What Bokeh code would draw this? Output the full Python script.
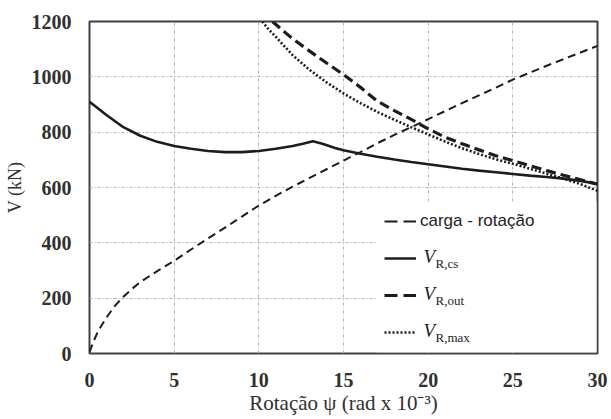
from bokeh.plotting import figure
from bokeh.models import FixedTicker, Legend, LegendItem, Range1d, BoxAnnotation
from bokeh.core.properties import value
from bokeh.embed import file_html
from bokeh.resources import INLINE

# ---- data ----
x_ticks = [0, 5, 10, 15, 20, 25, 30]
y_ticks = [0, 200, 400, 600, 800, 1000, 1200]

psi_carga = [0, 0.25, 0.5, 1, 1.5, 2, 2.5, 3, 4, 5, 6, 7, 8, 9, 10, 11, 12, 13, 14, 15,
             16, 17, 18, 19, 20, 21, 22, 23, 24, 25, 26, 27, 28, 29, 30]
v_carga = [5, 45, 80, 130, 172, 205, 233, 258, 298, 335, 376, 416, 455, 495, 535, 570, 603, 635, 666, 697,
           728, 760, 790, 818, 847, 876, 905, 933, 961, 990, 1015, 1040, 1064, 1088, 1112]

psi_cs = [0, 1, 2, 3, 4, 5, 6, 7, 8, 9, 10, 11, 12, 12.6, 13.2, 13.8, 14.5, 15, 16, 17, 18,
          19, 20, 21, 22, 23, 24, 25, 26, 27, 28, 29, 30]
v_cs = [910, 862, 818, 787, 765, 750, 740, 732, 728, 728, 732, 740, 750, 758, 767, 757, 743, 735, 722, 711, 701,
        692, 684, 676, 668, 661, 655, 649, 643, 638, 632, 624, 613]

psi_out = [10.8, 11.6, 12, 13, 14, 15, 16, 17, 18, 19, 20, 21, 22, 23, 24, 25, 26, 27, 28, 29, 30]
v_out = [1200, 1158, 1138, 1093, 1050, 1008, 962, 912, 878, 846, 812, 782, 758, 736, 715, 697, 679, 661, 644, 628, 612]

psi_max = [10.2, 10.6, 11, 12, 13, 14, 15, 16, 17, 18, 19, 20, 21, 22, 23, 24, 25, 26, 27, 28, 29, 30]
v_max = [1200, 1170, 1145, 1078, 1025, 980, 940, 905, 873, 845, 818, 792, 766, 742, 721, 702, 686, 668, 650, 632, 612, 588]

legend_labels = ["carga - rotação", "R,cs", "R,out", "R,max"]
x_title = "Rotação ψ (rad x 10⁻³)"
y_title = "V (kN)"

# ---- layout (pixels) ----
FW, FH = 508, 332
XMAX, YMAX = 30, 1200
NAN = float("nan")


def dx(px):
    return px * XMAX / FW


def dy(px):
    return px * YMAX / FH


p = figure(frame_width=FW, frame_height=FH,
           min_border_left=89, min_border_right=14, min_border_top=21, min_border_bottom=66,
           x_range=Range1d(0, XMAX), y_range=Range1d(0, YMAX),
           output_backend="svg", toolbar_location=None)

p.outline_line_color = "#404040"
p.outline_line_width = 2
p.background_fill_color = "white"
p.border_fill_color = "white"

for ax, ticks in ((p.xaxis, x_ticks), (p.yaxis, y_ticks)):
    ax.ticker = FixedTicker(ticks=ticks)
    ax.axis_line_color = None
    ax.major_tick_line_color = None
    ax.minor_tick_line_color = None
    ax.major_tick_out = 0
    ax.major_tick_in = 0
    ax.major_label_text_font = "Liberation Serif"
    ax.major_label_text_font_style = "bold"
    ax.major_label_text_font_size = "20px"
    ax.major_label_text_color = "#303030"
    ax.axis_label_text_font = "Liberation Serif"
    ax.axis_label_text_font_style = "normal"
    ax.axis_label_text_color = "#303030"
p.yaxis.major_label_standoff = 18
p.xaxis.major_label_standoff = 19
p.xaxis.axis_label = x_title
p.xaxis.axis_label_text_font_size = "21px"
p.xaxis.axis_label_standoff = 1
p.yaxis.axis_label = y_title
p.yaxis.axis_label_text_font_size = "18px"
p.yaxis.axis_label_standoff = 4

p.xgrid.ticker = FixedTicker(ticks=x_ticks[1:-1])
p.ygrid.ticker = FixedTicker(ticks=y_ticks[1:-1])
for g in (p.xgrid, p.ygrid):
    g.grid_line_color = "#b0b0b0"
    g.grid_line_width = 1
    g.grid_line_dash = "3 2 1 2"

# white legend area (covers the grid, keeps the frame outline)
p.add_layout(BoxAnnotation(left=dx(287), right=dx(507), bottom=dy(1.2), top=dy(152),
                           fill_color="white", fill_alpha=1.0, line_alpha=0, level="underlay"))

col = "#1c1c1c"
r_carga = p.line(psi_carga, v_carga, line_color=col, line_width=2, line_dash="8 5")
r_cs = p.line(psi_cs, v_cs, line_color=col, line_width=2.6)
r_out = p.line(psi_out, v_out, line_color=col, line_width=3.2, line_dash="10 5")
r_max = p.line(psi_max, v_max, line_color=col, line_width=2.6, line_dash="2 2")

# legend samples (same styles, with the longer dashes of the reference legend); not drawn in the plot
s_carga = p.line([NAN], [NAN], line_color=col, line_width=2, line_dash="13 6")
s_cs = p.line([NAN], [NAN], line_color=col, line_width=2.6)
s_out = p.line([NAN], [NAN], line_color=col, line_width=3.2, line_dash="13 6")
s_max = p.line([NAN], [NAN], line_color=col, line_width=2.6, line_dash="2 2")

legend = Legend(items=[
    LegendItem(label=value(legend_labels[0]), renderers=[s_carga]),
    LegendItem(label=value(" "), renderers=[s_cs]),
    LegendItem(label=value(" "), renderers=[s_out]),
    LegendItem(label=value(" "), renderers=[s_max]),
], location=(287, 1), padding=8, spacing=13, margin=0,
    glyph_width=32, glyph_height=24, label_height=24, label_width=168, label_standoff=4,
    label_text_font="Liberation Sans", label_text_font_size="17px", label_text_color="#222222",
    background_fill_alpha=0.0, border_line_alpha=0)
p.add_layout(legend)

# legend texts V_R,... (italic V + subscript), placed beside the legend samples
row_px = [95, 58, 21]
p.text(x=[dx(334)] * 3, y=[dy(r + 2) for r in row_px], text=["V"] * 3,
       text_font=value("Liberation Serif"), text_font_style="italic", text_font_size="19px",
       text_align="left", text_baseline="middle", text_color="#222222")
p.text(x=[dx(346)] * 3, y=[dy(r - 5) for r in row_px], text=legend_labels[1:],
       text_font=value("Liberation Serif"), text_font_size="13px",
       text_align="left", text_baseline="middle", text_color="#222222")

open("out.html", "w").write(file_html(p, INLINE))
